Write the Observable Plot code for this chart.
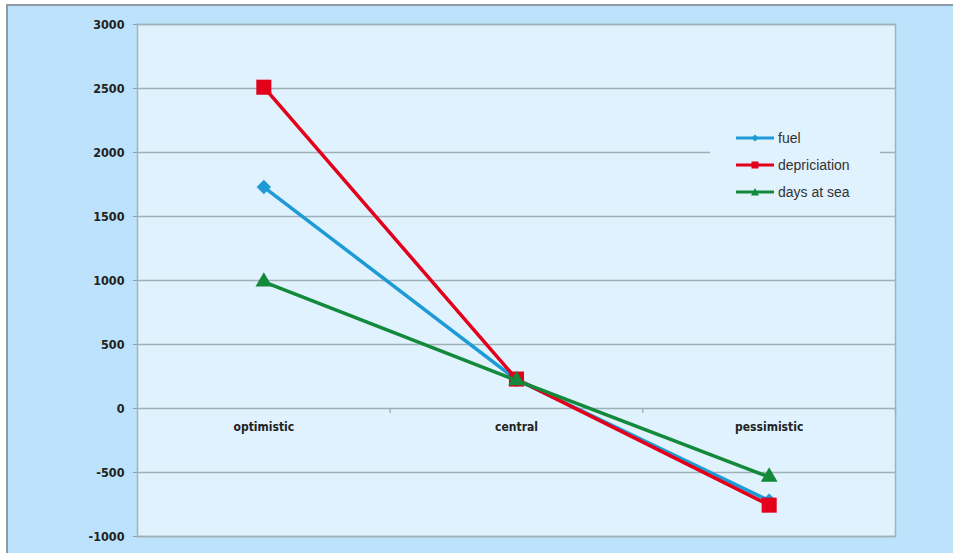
<!DOCTYPE html>
<html>
<head>
<meta charset="utf-8">
<script src="https://cdn.jsdelivr.net/npm/d3@7"></script>
<script src="https://cdn.jsdelivr.net/npm/@observablehq/plot@0.6"></script>
<style>
  html, body { margin: 0; padding: 0; background: #ffffff; overflow: hidden; }
  #wrap { position: relative; width: 953px; height: 553px; }
  #panel { position: absolute; left: 6px; top: 4px; right: 0; bottom: 0;
           background: #bce3fb; border-top: 2px solid #8e9ba6; border-left: 2px solid #8e9ba6; }
  #chart { position: absolute; left: 0; top: 0; }
  #legend { position: absolute; left: 710px; top: 124px; width: 170px; height: 82px;
            background: #dff2fd; font-family: "Liberation Sans", Arial, sans-serif;
            font-size: 14px; color: #333; }
  .item { position: absolute; left: 26px; height: 14px; display: flex; align-items: center; }
  .item svg { display: block; margin-right: 3px; }
</style>
</head>
<body>
<div id="wrap">
  <div id="panel"></div>
  <div id="chart"></div>
  <div id="legend"></div>
</div>
<script>
const categories = ["optimistic", "central", "pessimistic"];
const seriesNames = ["fuel", "depriciation", "days at sea"];
const fuel = [1730, 225, -720];
const depriciation = [2510, 230, -755];
const daysAtSea = [990, 220, -535];
const yTicks = [-1000, -500, 0, 500, 1000, 1500, 2000, 2500, 3000];
const colors = ["#1e9bd7", "#e3001b", "#13893b"];
const symbols = ["diamond2", "square", "triangle"];
const markerR = [6.5, 8.5, 6.2];

const seriesValues = [fuel, depriciation, daysAtSea];
const rows = [];
seriesNames.forEach((s, k) => {
  seriesValues[k].forEach((v, i) => rows.push({series: s, k, i, cat: categories[i], value: v}));
});
const boundaries = categories.map((c, i) => i + 0.5);

const marks = [
  Plot.frame({fill: "#dff2fd", stroke: "#a3b2bb", strokeWidth: 1.5}),
  Plot.ruleY(yTicks, {stroke: "#9fb0b9", strokeWidth: 1.4}),
  Plot.ruleX(boundaries, {y1: 0, y2: -40, stroke: "#9fb0b9", strokeWidth: 1.4}),
  Plot.axisY({ticks: yTicks, tickSize: 4, tickPadding: 9, tickFormat: d => String(d), label: null,
              fontSize: 12.5, fontWeight: "bold", stroke: "#8f9ea8", fill: "#222"}),
  Plot.text(categories, {x: (d, i) => i, y: () => 0, dy: 19, text: d => d,
              fontSize: 12, fontWeight: "bold", fill: "#222"})
];
seriesNames.forEach((s, k) => {
  const data = rows.filter(r => r.k === k);
  marks.push(Plot.line(data, {x: "i", y: "value", stroke: colors[k], strokeWidth: 3.5}));
  marks.push(Plot.dot(data, {x: "i", y: "value", fill: colors[k], stroke: "none",
                             symbol: symbols[k], r: markerR[k]}));
});

const chart = Plot.plot({
  width: 953, height: 553,
  marginLeft: 137, marginRight: 58, marginTop: 24, marginBottom: 17,
  style: {background: "transparent", fontFamily: "'DejaVu Sans Condensed', 'DejaVu Sans', sans-serif"},
  x: {domain: [-0.5, categories.length - 0.5], axis: null, label: null},
  y: {domain: [yTicks[0], yTicks[yTicks.length - 1]], axis: null, label: null},
  marks
});
document.getElementById("chart").appendChild(chart);

// legend
const legend = document.getElementById("legend");
const legendMarker = [
  '<path d="M19,1.5 L22.5,5 L19,8.5 L15.5,5 Z"/>',
  '<rect x="15.5" y="1.5" width="7" height="7"/>',
  '<path d="M19,1 L23,8.5 L15,8.5 Z"/>'
];
seriesNames.forEach((s, k) => {
  const it = document.createElement("div");
  it.className = "item";
  it.style.top = (7 + k * 27) + "px";
  it.innerHTML = `<svg width="39" height="10"><line x1="0" y1="5" x2="38" y2="5" stroke="${colors[k]}" stroke-width="3"/>` +
    `<g fill="${colors[k]}">${legendMarker[k]}</g></svg><span>${s}</span>`;
  legend.appendChild(it);
});
</script>
</body>
</html>
